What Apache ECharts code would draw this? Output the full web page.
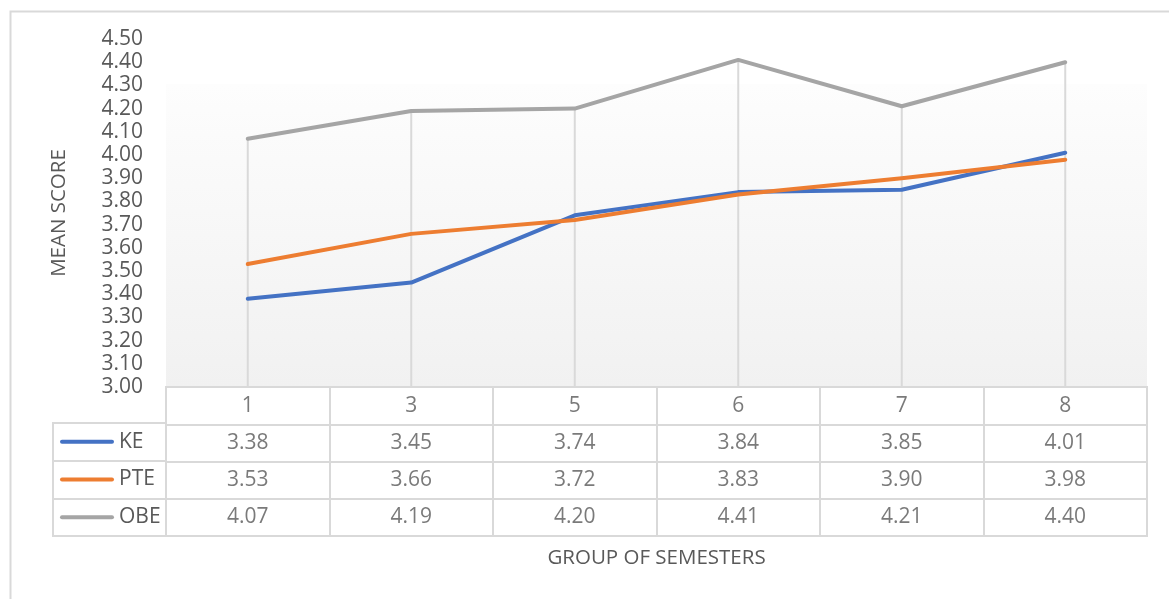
<!DOCTYPE html>
<html>
<head>
<meta charset="utf-8">
<script src="https://cdn.jsdelivr.net/npm/echarts@6/dist/echarts.min.js"></script>
<style>
  html, body { margin: 0; padding: 0; background: #fff; }
  #chart { width: 1169px; height: 599px; }
</style>
</head>
<body>
<div id="chart"></div>
<script>
// data
const semesters = ['1', '3', '5', '6', '7', '8'];
const seriesNames = ['KE', 'PTE', 'OBE'];
const keScores = [3.38, 3.45, 3.74, 3.84, 3.85, 4.01];
const pteScores = [3.53, 3.66, 3.72, 3.83, 3.90, 3.98];
const obeScores = [4.07, 4.19, 4.20, 4.41, 4.21, 4.40];
const colors = ['#4472C4', '#ED7D31', '#A5A5A5'];

const allScores = [keScores, pteScores, obeScores];
const textColor = '#595959';
const lineGrey = '#d9d9d9';
const font = 'Open Sans';

// table cells: header row with semesters, then one row per series
const tableRows = ['hdr'].concat(seriesNames);
const cells = [];
semesters.forEach(function (s, i) {
  cells.push({ value: [i, 'hdr'], text: s });
  allScores.forEach(function (arr, k) {
    cells.push({ value: [i, seriesNames[k]], text: arr[i].toFixed(2) });
  });
});

const rich = {};
seriesNames.forEach(function (n, k) {
  rich['k' + k] = { width: 54, height: 4, backgroundColor: colors[k], borderRadius: 2 };
});
rich.t = { fontFamily: font, fontSize: 21, color: textColor, padding: [0, 0, 0, 5] };

const myChart = echarts.init(document.getElementById('chart'));
const option = {
  animation: false,
  textStyle: { fontFamily: font },
  graphic: [{
    type: 'rect', left: 8, top: 9, silent: true,
    shape: { width: 1200, height: 620 },
    style: { fill: 'none', stroke: lineGrey, lineWidth: 2 }
  }],
  grid: [
    { left: 166, right: 22, top: 39, bottom: 212 },          // plot
    { left: 166, right: 22, top: 387, bottom: 63, show: true, borderColor: lineGrey, borderWidth: 2, backgroundColor: '#fff' }, // table
    { left: 53, width: 113, top: 423, bottom: 63, show: true, borderColor: lineGrey, borderWidth: 2 }, // legend column
    { left: 166, right: 22, top: 84, bottom: 212, show: true, borderWidth: 0,
      backgroundColor: new echarts.graphic.LinearGradient(0, 0, 0, 1, [
        { offset: 0, color: '#fdfdfd' }, { offset: 1, color: '#f1f1f1' }]) }
  ],
  xAxis: [
    { gridIndex: 0, type: 'category', data: semesters, boundaryGap: true,
      axisLine: { show: false }, axisTick: { show: false }, axisLabel: { show: false } },
    { gridIndex: 1, type: 'category', data: semesters, boundaryGap: true,
      axisLine: { show: false }, axisTick: { show: false }, axisLabel: { show: false },
      splitLine: { show: true, interval: 0, lineStyle: { color: lineGrey, width: 2 } },
      name: 'GROUP OF SEMESTERS', nameLocation: 'middle', nameGap: 12,
      nameTextStyle: { fontFamily: font, fontSize: 20.5, color: textColor, verticalAlign: 'top' } },
    { gridIndex: 2, type: 'value', show: false },
    { gridIndex: 3, type: 'value', show: false }
  ],
  yAxis: [
    { gridIndex: 0, type: 'value', min: 3, max: 4.5, interval: 0.1,
      axisLine: { show: false }, axisTick: { show: false }, splitLine: { show: false },
      axisLabel: { margin: 23, fontSize: 21, color: textColor, fontFamily: font,
        formatter: function (v) { return v.toFixed(2); } },
      name: 'MEAN SCORE', nameLocation: 'middle', nameRotate: 90, nameGap: 96,
      nameTextStyle: { fontFamily: font, fontSize: 20.5, color: textColor } },
    { gridIndex: 1, type: 'category', data: tableRows, inverse: true,
      axisLine: { show: false }, axisTick: { show: false }, axisLabel: { show: false },
      splitLine: { show: true, interval: 0, lineStyle: { color: lineGrey, width: 2 } } },
    { gridIndex: 2, type: 'category', data: seriesNames, inverse: true,
      axisLine: { show: false }, axisTick: { show: false },
      splitLine: { show: true, interval: 0, lineStyle: { color: lineGrey, width: 2 } },
      axisLabel: { inside: true, align: 'left', margin: 7, rich: rich,
        formatter: function (v, i) { return '{k' + i + '|}{t|' + v + '}'; } } },
    { gridIndex: 3, type: 'value', show: false }
  ],
  series: [
    // drop lines from the OBE points
    { type: 'bar', xAxisIndex: 0, yAxisIndex: 0, data: obeScores, barWidth: 2,
      itemStyle: { color: lineGrey }, silent: true, z: 1 },
    { name: seriesNames[0], type: 'line', data: keScores, showSymbol: false,
      lineStyle: { color: colors[0], width: 4, cap: 'round', join: 'round' }, z: 3 },
    { name: seriesNames[1], type: 'line', data: pteScores, showSymbol: false,
      lineStyle: { color: colors[1], width: 4, cap: 'round', join: 'round' }, z: 4 },
    { name: seriesNames[2], type: 'line', data: obeScores, showSymbol: false,
      lineStyle: { color: colors[2], width: 4, cap: 'round', join: 'round' }, z: 3 },
    // data table text
    { type: 'scatter', xAxisIndex: 1, yAxisIndex: 1, symbolSize: 0, silent: true,
      data: cells,
      label: { show: true, position: 'inside', fontFamily: font, fontSize: 21, color: textColor,
        formatter: function (p) { return p.data.text; } } }
  ]
};
myChart.setOption(option);
window.addEventListener('resize', function () { myChart.resize(); });
</script>
</body>
</html>
